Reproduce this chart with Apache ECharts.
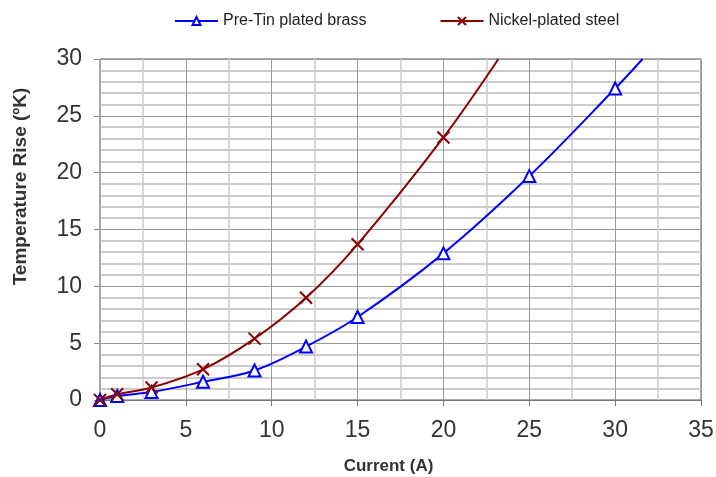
<!DOCTYPE html>
<html><head><meta charset="utf-8">
<script src="https://cdn.jsdelivr.net/npm/echarts@6/dist/echarts.min.js"></script>
<style>html,body{margin:0;padding:0;background:#fff}#c{width:716px;height:477px}</style>
</head><body><div id="c"></div>
<script>
const brassX = [0, 1, 3, 6, 9, 12, 15, 20, 25, 30, 31.6];
const brassY = [0, 0.35, 0.7, 1.6, 2.6, 4.7, 7.3, 12.9, 19.7, 27.4, 30];
const steelX = [0, 1, 3, 6, 9, 12, 15, 20, 23.2];
const steelY = [0, 0.5, 1.1, 2.7, 5.4, 9.0, 13.7, 23.1, 30];
const xTicks = [0, 5, 10, 15, 20, 25, 30, 35];
const yTicks = [0, 5, 10, 15, 20, 25, 30];
const markedBrass = 10, markedSteel = 8;

const crossPath = 'path://M0,0L10,10M10,0L0,10';
function pts(xs, ys, nMarked) {
  return xs.map((x, i) => ({value: [x, ys[i]], symbol: i < nMarked ? undefined : 'none'}));
}
const chart = echarts.init(document.getElementById('c'));
chart.setOption({
  animation: false,
  legend: {
    top: 8, left: 169, itemGap: 73, itemWidth: 43, itemHeight: 10,
    textStyle: {fontFamily: 'Liberation Sans', fontSize: 16, color: '#222'},
    data: ['Pre-Tin plated brass', 'Nickel-plated steel']
  },
  grid: {left: 100, right: 15, top: 59, bottom: 77, show: true, borderColor: '#555', borderWidth: 1,
    outerBoundsMode: 'none', containLabel: false},
  xAxis: {
    type: 'value', min: 0, max: 35, interval: 5,
    name: 'Current (A)', nameLocation: 'middle', nameGap: 58,
    nameTextStyle: {fontFamily: 'Liberation Sans', fontSize: 17, fontWeight: 'bold', color: '#333', padding: [0, 24, 0, 0]},
    axisLine: {show: true, lineStyle: {color: '#777'}},
    axisTick: {show: true, length: 6, lineStyle: {color: '#777'}},
    axisLabel: {margin: 19, fontFamily: 'Liberation Sans', fontSize: 23, color: '#333',
      formatter: v => xTicks.includes(v) ? String(v) : ''},
    splitLine: {show: true, lineStyle: {color: '#999'}},
    minorTick: {show: false, splitNumber: 2},
    minorSplitLine: {show: true, lineStyle: {color: '#ccc', width: 1.5}}
  },
  yAxis: {
    type: 'value', min: 0, max: 30, interval: 5,
    name: 'Temperature Rise (ºK)', nameLocation: 'middle', nameGap: 70,
    nameTextStyle: {fontFamily: 'Liberation Sans', fontSize: 19, fontWeight: 'bold', color: '#333', padding: [0, 0, 0, 86]},
    axisLine: {show: true, lineStyle: {color: '#aaa'}},
    axisTick: {show: true, length: 6, lineStyle: {color: '#888'}},
    axisLabel: {margin: 18, fontFamily: 'Liberation Sans', fontSize: 23, color: '#333',
      formatter: v => yTicks.includes(v) ? String(v) : ''},
    splitLine: {show: true, lineStyle: {color: '#999'}},
    minorTick: {show: false, splitNumber: 5},
    minorSplitLine: {show: true, lineStyle: {color: '#ccc', width: 2}}
  },
  series: [
    {
      name: 'Pre-Tin plated brass', type: 'line', smooth: 0.35, clip: true,
      data: pts(brassX, brassY, markedBrass),
      symbol: 'emptyTriangle', symbolSize: 12, showAllSymbol: true,
      lineStyle: {color: '#0000ff', width: 2},
      itemStyle: {color: '#0000ff', borderColor: '#0000ff', borderWidth: 2}
    },
    {
      name: 'Nickel-plated steel', type: 'line', smooth: 0.35, clip: true,
      data: pts(steelX, steelY, markedSteel),
      symbol: crossPath, symbolSize: 12, showAllSymbol: true,
      lineStyle: {color: '#8b0000', width: 2},
      itemStyle: {color: '#8b0000', borderColor: '#8b0000', borderWidth: 2}
    }
  ]
});
</script></body></html>
